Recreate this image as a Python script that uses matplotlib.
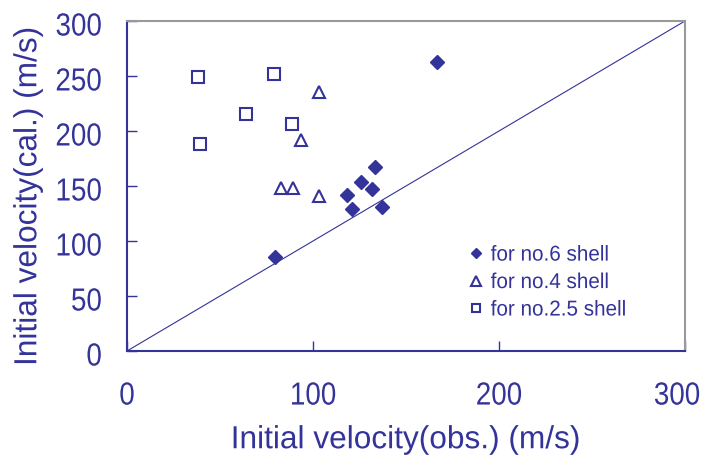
import matplotlib
matplotlib.use("Agg")
import matplotlib.pyplot as plt
from matplotlib.patheffects import AbstractPathEffect
from matplotlib.transforms import Affine2D, ScaledTranslation

navy = "#333399"

# no.6 shell
obs6 = [166.5, 133.3, 125.8, 131.6, 118.3, 120.8, 136.9, 79.6]
cal6 = [263.0, 167.0, 153.9, 147.0, 141.8, 129.1, 130.6, 85.7]
# no.4 shell
obs4 = [103.4, 93.5, 83.0, 89.2, 103.4]
cal4 = [235.7, 191.8, 147.9, 147.9, 141.2]
# no.2.5 shell
obs25 = [38.3, 79.0, 64.0, 88.7, 39.4]
cal25 = [249.4, 251.5, 215.2, 206.1, 188.2]

xticks = [0, 100, 200, 300]
yticks = [0, 50, 100, 150, 200, 250, 300]


# squeeze glyphs horizontally, the original font is a narrow one
class Narrow(AbstractPathEffect):
    def __init__(self, s, anchor="center"):
        super().__init__()
        self.s = s
        self.anchor = anchor

    def draw_path(self, renderer, gc, tpath, affine, rgbFace=None):
        ext = tpath.get_extents()
        if self.anchor == "right":
            cx = ext.x1
        elif self.anchor == "left":
            cx = ext.x0
        else:
            cx = (ext.x0 + ext.x1) / 2
        t = Affine2D().translate(-cx, 0).scale(self.s, 1).translate(cx, 0)
        renderer.draw_path(gc, tpath, t + affine, rgbFace)


plt.rcParams["font.family"] = ["Liberation Sans", "DejaVu Sans"]

fig = plt.figure(figsize=(7.06, 4.59), dpi=100)
ax = fig.add_axes([127 / 706, 108 / 459, 558 / 706, 330 / 459])

ax.plot([0, 300], [0, 300], color=navy, lw=0.8, zorder=1)
ax.plot(obs6, cal6, "D", ms=7, color=navy, ls="none", label="for no.6 shell")
ax.plot(obs4, cal4, "^", ms=9, mfc="white", mec=navy, mew=1.5, ls="none", label="for no.4 shell")
ax.plot(obs25, cal25, "s", ms=8, mfc="white", mec=navy, mew=1.5, ls="none", label="for no.2.5 shell")

ax.set_xlim(0, 300)
ax.set_ylim(0, 300)
ax.set_xticks(xticks)
ax.set_yticks(yticks)
ax.tick_params(direction="in", length=7, width=1, color=navy, labelcolor=navy, labelsize=23)
ax.tick_params(axis="x", pad=22)
ax.tick_params(axis="y", pad=18)

for s in ["left", "bottom"]:
    ax.spines[s].set_color(navy)
    ax.spines[s].set_linewidth(1.5)
for s in ["top", "right"]:
    ax.spines[s].set_color("#999999")
    ax.spines[s].set_linewidth(1.5)

ax.set_xlabel("Initial velocity(obs.) (m/s)", fontsize=23, color=navy)
ax.set_ylabel("Initial velocity(cal.) (m/s)", fontsize=23, color=navy)
ax.xaxis.set_label_coords(0.5, -0.225)
ax.yaxis.set_label_coords(-0.15, 0.47)
ax.xaxis.label.set_path_effects([Narrow(0.99)])
ax.yaxis.label.set_path_effects([Narrow(0.99)])

xlabels = ax.get_xticklabels()
for t in xlabels:
    t.set_path_effects([Narrow(0.87)])
# last label sits a bit inside the figure edge
xlabels[-1].set_transform(xlabels[-1].get_transform()
                          + ScaledTranslation(-0.08, 0, fig.dpi_scale_trans))
for t in ax.get_yticklabels():
    t.set_path_effects([Narrow(0.87, "right")])
    t.set_transform(t.get_transform() + ScaledTranslation(0, -0.03, fig.dpi_scale_trans))

leg = ax.legend(loc="upper left", bbox_to_anchor=(0.59, 0.355), frameon=False,
                fontsize=15.5, handlelength=0.8, handletextpad=0.3,
                labelspacing=0.3, borderpad=0, markerscale=0.8)
for t in leg.get_texts():
    t.set_color(navy)
    t.set_path_effects([Narrow(0.96, "left")])

fig.savefig("out.png", dpi=100)
